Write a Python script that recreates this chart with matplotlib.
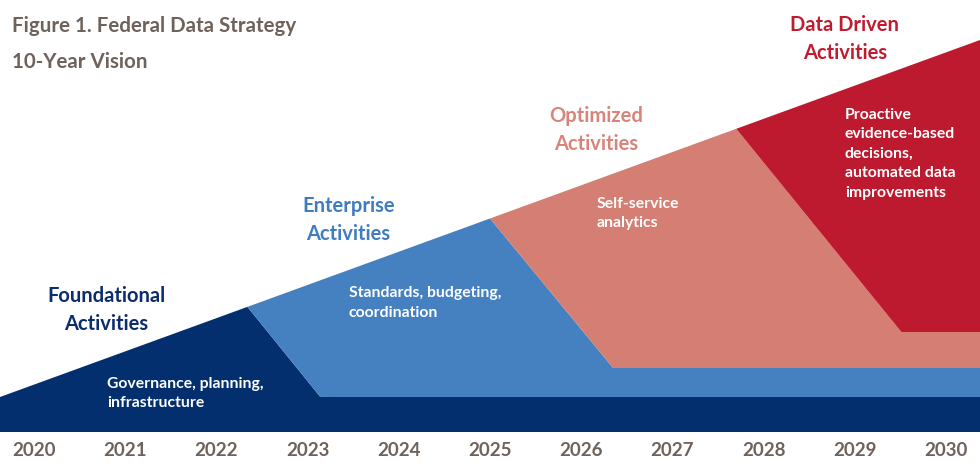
import matplotlib
matplotlib.use("Agg")
import matplotlib.pyplot as plt

# ---------------- data ----------------
years = list(range(2020, 2031))
year_labels = [str(y) for y in years]

stage_names = ["Foundational\nActivities", "Enterprise\nActivities",
               "Optimized\nActivities", "Data Driven\nActivities"]
stage_desc = ["Governance, planning,\ninfrastructure",
              "Standards, budgeting,\ncoordination",
              "Self-service\nanalytics",
              "Proactive\nevidence-based\ndecisions,\nautomated data\nimprovements"]

# wedge (overall rising envelope): x extent and height at both ends
wedge_x = [2019.627, 2030.373]
wedge_y = [35, 392]
# where each stage meets the envelope, and where its boundary reaches the next floor
peak_x = [2022.34, 2025.00, 2027.70]
floor_x = [2023.14, 2026.35, 2029.51]
# bottom level of each stage at the right edge
floor_y = [0, 35, 64, 100]

stage_colors = ["#042F6F", "#4580C1", "#D57E74", "#BE1A2F"]
label_colors = ["#0B2D6C", "#3F7CC2", "#D8847A", "#C11B30"]
label_pos = [(2020.79, 122), (2023.45, 212), (2026.16, 302), (2028.89, 393)]
desc_pos = [(2020.80, 38.5), (2023.45, 129), (2026.17, 218.5), (2028.89, 278.5)]

title_color = "#6E625A"

# ---------------- figure ----------------
plt.rcParams['font.family'] = ['Lato', 'DejaVu Sans']
fig = plt.figure(figsize=(9.8, 4.73), dpi=100)
ax = fig.add_axes([0, 41 / 473, 1, 432 / 473])
ax.set_xlim(wedge_x[0], wedge_x[1])
ax.set_ylim(0, 432)


def wedge(x):
    t = (x - wedge_x[0]) / (wedge_x[1] - wedge_x[0])
    return wedge_y[0] + t * (wedge_y[1] - wedge_y[0])


L, R = wedge_x
n = len(stage_colors)
for i in range(n):
    xs, ys = [], []
    if i == 0:
        xs += [L, L]
        ys += [floor_y[0], wedge(L)]
    else:
        xs += [floor_x[i - 1], peak_x[i - 1]]
        ys += [floor_y[i], wedge(peak_x[i - 1])]
    if i < n - 1:
        xs += [peak_x[i], floor_x[i], R, R]
        ys += [wedge(peak_x[i]), floor_y[i + 1], floor_y[i + 1], floor_y[i]]
    else:
        xs += [R, R]
        ys += [wedge(R), floor_y[i]]
    ax.fill(xs, ys, color=stage_colors[i], lw=0, zorder=2)

for i in range(n):
    ax.text(label_pos[i][0], label_pos[i][1], stage_names[i], ha="center", va="center",
            fontsize=14.5, fontweight="bold", color=label_colors[i], linespacing=1.45, zorder=3)
    ax.text(desc_pos[i][0], desc_pos[i][1], stage_desc[i], ha="left", va="center",
            fontsize=11.3, fontweight="bold", color="white", linespacing=1.5, zorder=3)

ax.set_xticks(years)
ax.set_xticklabels(year_labels, fontsize=13.5, fontweight="bold", color=title_color)
ax.tick_params(axis="x", length=0, pad=7)
ax.set_yticks([])
for s in ax.spines.values():
    s.set_visible(False)

fig.text(12 / 980, 1 - 26 / 473, "Figure 1. Federal Data Strategy", ha="left", va="center",
         fontsize=14.8, fontweight="bold", color=title_color)
fig.text(12 / 980, 1 - 62 / 473, "10-Year Vision", ha="left", va="center",
         fontsize=14.8, fontweight="bold", color=title_color)

fig.savefig("out.png", dpi=100)
